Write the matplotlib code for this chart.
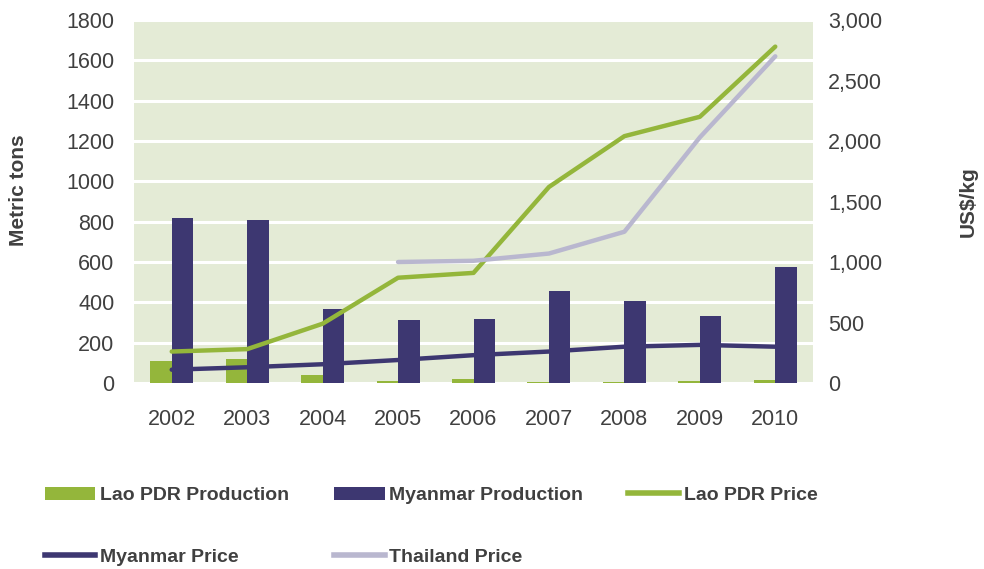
import matplotlib
matplotlib.use("Agg")
import matplotlib.pyplot as plt
import numpy as np
from matplotlib.patches import Patch
from matplotlib.lines import Line2D

years = ["2002", "2003", "2004", "2005", "2006", "2007", "2008", "2009", "2010"]
lao_production = [110, 120, 40, 10, 20, 5, 5, 10, 15]
myanmar_production = [820, 810, 365, 310, 315, 455, 405, 330, 575]
lao_price = [260, 280, 490, 870, 910, 1620, 2040, 2200, 2780]
myanmar_price = [110, 130, 155, 190, 230, 260, 300, 315, 300]
thailand_price = [np.nan, np.nan, np.nan, 1000, 1010, 1070, 1250, 2030, 2700]

left_ticks = [0, 200, 400, 600, 800, 1000, 1200, 1400, 1600, 1800]
right_ticks = [0, 500, 1000, 1500, 2000, 2500, 3000]

GREEN = "#94b63b"
NAVY = "#3d3771"
GRAY = "#b9b7cf"
BG = "#e4ebd6"
TXT = "#404040"

plt.rcParams["font.family"] = ["Liberation Sans", "DejaVu Sans"]

fig = plt.figure(figsize=(9.84, 5.69), dpi=100)
ax = fig.add_axes([134/984, 1 - 383/569, (813-134)/984, (383-20)/569])
ax.set_facecolor(BG)
x = np.arange(len(years))
w = 0.285
ax.bar(x - w/2, lao_production, w, color=GREEN, zorder=2)
ax.bar(x + w/2, myanmar_production, w, color=NAVY, zorder=2)
ax.set_xlim(-0.5, len(years) - 0.5)
ax.set_ylim(0, 1800)
ax.set_yticks(left_ticks)
ax.set_yticklabels([str(t) for t in left_ticks])
ax.yaxis.grid(True, color="white", linewidth=2.2, zorder=1)
ax.set_axisbelow(True)
ax.set_xticks(x)
ax.set_xticklabels(years)
for s in ax.spines.values():
    s.set_visible(False)
ax.tick_params(axis="both", length=0, labelsize=15.5, colors=TXT)
ax.tick_params(axis="x", pad=19)
ax.tick_params(axis="y", pad=14)

ax2 = ax.twinx()
ax2.plot(x, lao_price, color=GREEN, lw=3.2, solid_capstyle="round", zorder=3)
ax2.plot(x, myanmar_price, color=NAVY, lw=3.2, solid_capstyle="round", zorder=3)
ax2.plot(x, thailand_price, color=GRAY, lw=3.2, solid_capstyle="round", zorder=3)
ax2.set_ylim(0, 3000)
ax2.set_yticks(right_ticks)
ax2.set_yticklabels([f"{t:,}" for t in right_ticks])
for s in ax2.spines.values():
    s.set_visible(False)
ax2.tick_params(axis="y", length=0, labelsize=15.5, colors=TXT, pad=11)

fig.text(19/984, 1 - 190/569, "Metric tons", rotation=90, ha="center", va="center",
         fontsize=15, fontweight="bold", color=TXT)
fig.text(968/984, 1 - 202/569, "US$/kg", rotation=90, ha="center", va="center",
         fontsize=15, fontweight="bold", color=TXT)

handles = [
    Patch(facecolor=GREEN, label="Lao PDR Production"),
    Line2D([], [], color=NAVY, lw=4, label="Myanmar Price"),
    Patch(facecolor=NAVY, label="Myanmar Production"),
    Line2D([], [], color=GRAY, lw=4, label="Thailand Price"),
    Line2D([], [], color=GREEN, lw=4, label="Lao PDR Price"),
]
leg = fig.legend(handles=handles, ncol=3, loc="upper left",
                 bbox_to_anchor=(35/984, 1 - 477/569), frameon=False,
                 prop={"weight": "bold", "size": 14}, handlelength=2.6,
                 handleheight=0.65, handletextpad=0.25, columnspacing=2.3,
                 labelspacing=2.28, borderpad=0)
for t in leg.get_texts():
    t.set_color(TXT)

fig.savefig("out.png", dpi=100)
